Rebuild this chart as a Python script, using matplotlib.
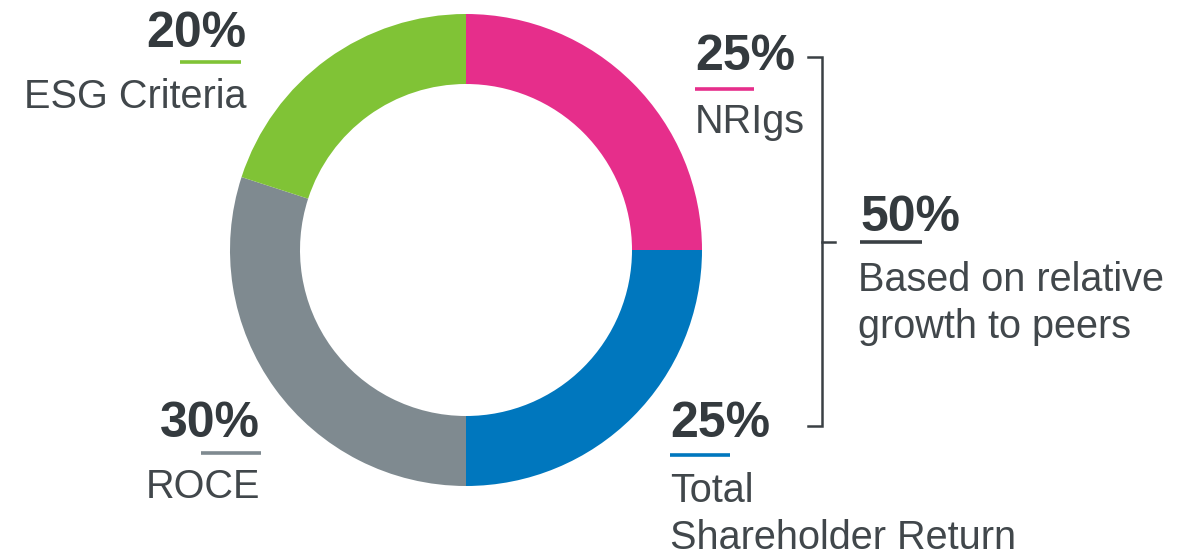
import matplotlib
matplotlib.use("Agg")
import matplotlib.pyplot as plt

W, H = 1199, 556

labels = ["NRIgs", "Total\nShareholder Return", "ROCE", "ESG Criteria"]
values = [25, 25, 30, 20]
colors = ["#E62E8B", "#0077BE", "#7F8A90", "#80C336"]
pct_texts = ["25%", "25%", "30%", "20%"]
group_pct = "50%"
group_label = "Based on relative\ngrowth to peers"

TXT = "#343a3e"
NUM_FONT = dict(family="Liberation Sans", fontweight="bold", fontsize=36, color=TXT)
LAB_FONT = dict(family="Liberation Sans", fontweight="normal", fontsize=28.5, color="#41474b")
LINE_STEP = 47

fig = plt.figure(figsize=(W / 100, H / 100), dpi=100)
ax = fig.add_axes([0, 0, 1, 1])

def Y(y):
    return H - y

def multiline(x, baseline, text, ha):
    for k, line in enumerate(text.split("\n")):
        ax.text(x, Y(baseline + k * LINE_STEP), line, ha=ha, va="baseline", **LAB_FONT)

ax.pie(values, colors=colors, startangle=90, counterclock=False,
       radius=236, center=(466, Y(250)),
       wedgeprops=dict(width=70, linewidth=0))
ax.set_xlim(0, W)
ax.set_ylim(0, H)
ax.set_aspect("equal")
ax.axis("off")

# label blocks: (pct x, pct baseline, ha, line x0, line x1, line y, label baseline, label x)
blocks = [
    (695, 70, "left", 695, 754, 89, 133, 695),     # NRIgs
    (670, 437, "left", 670, 730, 455, 502, 670),   # TSR
    (260, 437, "right", 201, 261, 453, 498, 260),  # ROCE
    (246, 47, "right", 180, 241, 62, 108, 246),    # ESG
]
for i, (px, pb, ha, lx0, lx1, ly, lb, lxx) in enumerate(blocks):
    ax.text(px, Y(pb), pct_texts[i], ha=ha, va="baseline", **NUM_FONT)
    ax.plot([lx0, lx1], [Y(ly), Y(ly)], color=colors[i], lw=2.6, solid_capstyle="butt")
    multiline(lxx, lb, labels[i], ha)

# group bracket
bc = "#3a4044"
ax.plot([808, 822, 822, 808], [Y(57), Y(57), Y(426), Y(426)], color=bc, lw=1.8,
        solid_joinstyle="miter")
ax.plot([822, 835], [Y(242), Y(242)], color=bc, lw=1.8)

ax.text(860, Y(231), group_pct, ha="left", va="baseline", **NUM_FONT)
ax.plot([860, 922], [Y(242), Y(242)], color=bc, lw=2.6, solid_capstyle="butt")
multiline(858, 291, group_label, "left")

fig.savefig("out.png", dpi=100, facecolor="white")
